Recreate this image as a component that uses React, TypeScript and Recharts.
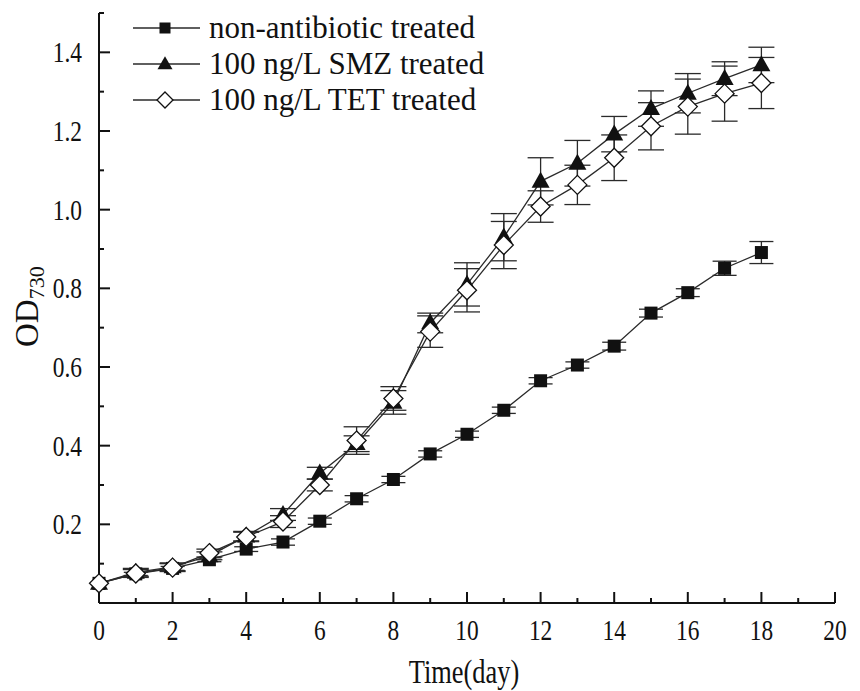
import React from 'react';
import { LineChart, Line, XAxis, YAxis, ErrorBar, Legend } from 'recharts';

const days = [0, 1, 2, 3, 4, 5, 6, 7, 8, 9, 10, 11, 12, 13, 14, 15, 16, 17, 18];
const control = [0.05, 0.074, 0.088, 0.11, 0.137, 0.155, 0.208, 0.265, 0.314, 0.379, 0.429, 0.49, 0.565, 0.605, 0.653, 0.737, 0.789, 0.851, 0.891];
const controlErr = [0, 0.004, 0.005, 0.005, 0.006, 0.008, 0.008, 0.008, 0.008, 0.008, 0.008, 0.008, 0.008, 0.008, 0.01, 0.01, 0.01, 0.018, 0.028];
const smz = [0.05, 0.078, 0.092, 0.12, 0.17, 0.225, 0.33, 0.405, 0.51, 0.712, 0.81, 0.93, 1.072, 1.118, 1.192, 1.257, 1.296, 1.333, 1.368];
const smzErr = [0, 0.01, 0.01, 0.01, 0.012, 0.015, 0.015, 0.02, 0.03, 0.025, 0.055, 0.06, 0.06, 0.058, 0.045, 0.045, 0.05, 0.043, 0.045];
const tet = [0.05, 0.075, 0.09, 0.127, 0.168, 0.207, 0.3, 0.413, 0.52, 0.69, 0.795, 0.91, 1.008, 1.063, 1.132, 1.212, 1.262, 1.295, 1.322];
const tetErr = [0, 0.01, 0.01, 0.01, 0.012, 0.015, 0.015, 0.035, 0.03, 0.04, 0.055, 0.06, 0.04, 0.05, 0.058, 0.06, 0.07, 0.07, 0.065];

const xTicks = [0, 1, 2, 3, 4, 5, 6, 7, 8, 9, 10, 11, 12, 13, 14, 15, 16, 17, 18, 19, 20];
const yTicks = [0, 0.1, 0.2, 0.3, 0.4, 0.5, 0.6, 0.7, 0.8, 0.9, 1.0, 1.1, 1.2, 1.3, 1.4, 1.5];

const seriesNames = ['non-antibiotic treated', '100 ng/L SMZ treated', '100 ng/L TET treated'];

const data = days.map((d, i) => ({
  day: d,
  control: control[i],
  controlErr: controlErr[i],
  smz: smz[i],
  smzErr: smzErr[i],
  tet: tet[i],
  tetErr: tetErr[i],
}));

const FONT = "'Liberation Serif', 'Times New Roman', serif";
const INK = '#111';
const LINE = '#2a2a2a';

const Square = ({ cx, cy, s = 13 }: any) => (
  <rect x={cx - s / 2} y={cy - s / 2} width={s} height={s} fill={INK} />
);
const Triangle = ({ cx, cy, w = 18, h = 16 }: any) => (
  <polygon points={`${cx},${cy - h * 0.6} ${cx + w / 2},${cy + h * 0.4} ${cx - w / 2},${cy + h * 0.4}`} fill={INK} />
);
const Diamond = ({ cx, cy, r = 9.5 }: any) => (
  <polygon points={`${cx},${cy - r} ${cx + r},${cy} ${cx},${cy + r} ${cx - r},${cy}`} fill="#fff" stroke={INK} strokeWidth={1.3} />
);

const XTick = (props: any) => {
  const { x, y, payload } = props;
  const v = payload.value;
  const major = v % 2 === 0;
  return (
    <g>
      <line x1={x} x2={x} y1={y} y2={y - (major ? 11 : 5)} stroke={INK} strokeWidth={2} />
      {major && (
        <text transform={`translate(${x},${y + 37}) scale(0.78,1)`} textAnchor="middle" fontSize={30} fontFamily={FONT} fill={INK}>
          {v}
        </text>
      )}
    </g>
  );
};

const YTick = (props: any) => {
  const { x, y, payload } = props;
  const v = payload.value;
  const n = Math.round(v * 10);
  const major = n % 2 === 0;
  return (
    <g>
      <line x1={x} x2={x + (major ? 11 : 5)} y1={y} y2={y} stroke={INK} strokeWidth={2} />
      {major && n > 0 && (
        <text transform={`translate(${x - 17},${y + 10}) scale(0.78,1)`} textAnchor="end" fontSize={30} fontFamily={FONT} fill={INK}>
          {v.toFixed(1)}
        </text>
      )}
    </g>
  );
};

const XTitle = () => (
  <text transform="translate(464,683) scale(0.8,1)" textAnchor="middle" fontSize={33} fontFamily={FONT} fill={INK}>
    Time(day)
  </text>
);

const YTitle = () => (
  <text transform="rotate(-90)" x={-347} y={38} textAnchor="start" fontSize={33} fontFamily={FONT} fill={INK}>
    OD
    <tspan fontSize={22} dy={6}>730</tspan>
  </text>
);

const LegendContent = () => {
  const rows = [0, 1, 2];
  return (
    <svg width={420} height={112} style={{ display: 'block' }}>
      {rows.map((i) => {
        const cy = 18 + i * 36;
        const cx = 40;
        return (
          <g key={i}>
            <line x1={8} x2={75} y1={cy} y2={cy} stroke={LINE} strokeWidth={1.5} />
            {i === 0 && <Square cx={cx} cy={cy} s={11} />}
            {i === 1 && <Triangle cx={cx} cy={cy} w={15} h={13} />}
            {i === 2 && <Diamond cx={cx} cy={cy} r={8} />}
            <text x={84} y={cy + 10} fontSize={31} fontFamily={FONT} fill={INK}>
              {seriesNames[i]}
            </text>
          </g>
        );
      })}
    </svg>
  );
};

export default function App() {
  return (
    <div style={{ position: 'absolute', left: 0, top: 0, width: 860, height: 691, background: '#fff' }}>
      <LineChart width={860} height={691} data={data} margin={{ top: 13, right: 25, bottom: 0, left: 0 }}>
        <XAxis
          dataKey="day"
          type="number"
          domain={[0, 20]}
          ticks={xTicks}
          interval={0}
          height={88}
          tickSize={0}
          tickMargin={0}
          tickLine={false}
          axisLine={{ stroke: INK, strokeWidth: 2 }}
          tick={<XTick />}
          label={{ content: () => <XTitle /> }}
        />
        <YAxis
          type="number"
          domain={[0, 1.5]}
          ticks={yTicks}
          interval={0}
          width={99}
          tickSize={0}
          tickMargin={0}
          tickLine={false}
          axisLine={{ stroke: INK, strokeWidth: 2 }}
          tick={<YTick />}
          label={{ content: () => <YTitle /> }}
        />
        <Legend
          layout="vertical"
          align="center"
          verticalAlign="middle"
          wrapperStyle={{ top: 10, left: 125, width: 420 }}
          content={() => <LegendContent />}
        />
        <Line
          dataKey="control"
          type="linear"
          stroke={LINE}
          strokeWidth={1.3}
          isAnimationActive={false}
          dot={(p: any) => <Square key={`c${p.index}`} cx={p.cx} cy={p.cy} />}
          activeDot={false}
        >
          <ErrorBar dataKey="controlErr" width={12} stroke={LINE} strokeWidth={1.3} direction="y" />
        </Line>
        <Line
          dataKey="smz"
          type="linear"
          stroke={LINE}
          strokeWidth={1.3}
          isAnimationActive={false}
          dot={(p: any) => <Triangle key={`s${p.index}`} cx={p.cx} cy={p.cy} />}
          activeDot={false}
        >
          <ErrorBar dataKey="smzErr" width={13} stroke={LINE} strokeWidth={1.3} direction="y" />
        </Line>
        <Line
          dataKey="tet"
          type="linear"
          stroke={LINE}
          strokeWidth={1.3}
          isAnimationActive={false}
          dot={(p: any) => <Diamond key={`t${p.index}`} cx={p.cx} cy={p.cy} />}
          activeDot={false}
        >
          <ErrorBar dataKey="tetErr" width={13} stroke={LINE} strokeWidth={1.3} direction="y" />
        </Line>
      </LineChart>
    </div>
  );
}
